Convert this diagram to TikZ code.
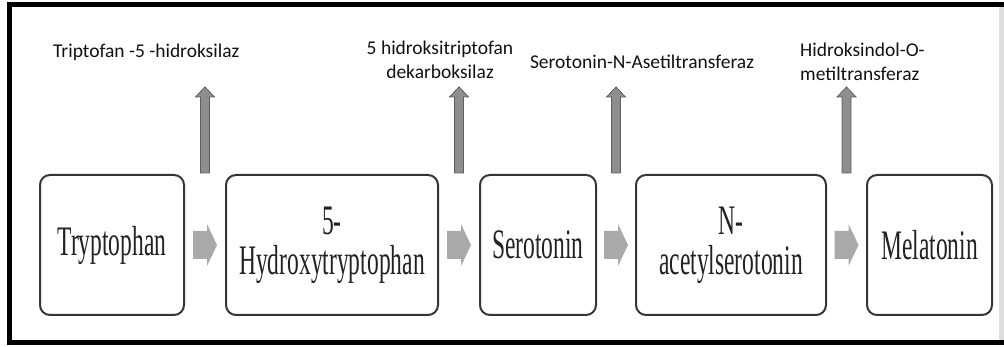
\documentclass[tikz,border=0pt]{standalone}
\usepackage{fontspec}
\setmainfont{Carlito}
\newfontfamily\boxfont{Liberation Serif}[FakeStretch=0.56]
\usetikzlibrary{calc}

\definecolor{boxline}{HTML}{353535}
\definecolor{boxtext}{HTML}{222222}
\definecolor{labeltext}{HTML}{111111}
\definecolor{arrowgrey}{HTML}{ABA8A9}
\definecolor{upgrey}{HTML}{8E8E8E}
\definecolor{upedge}{HTML}{5E5E5E}
\definecolor{rightedge}{HTML}{DDDDDD}

\tikzset{
	stage/.style={draw=boxline, line width=2pt, rounded corners=10pt, minimum height=140pt, inner sep=0pt, align=center, text=boxtext, font=\boxfont\fontsize{42}{40}\selectfont},
	enzyme/.style={inner sep=0pt, text=labeltext, font=\fontsize{19.5}{24}\selectfont},
	steparrow/.style={fill=arrowgrey, draw=none},
	uparrow/.style={fill=upgrey, draw=upedge, line width=0.8pt},
}

\begin{document}
\begin{tikzpicture}[x=1pt,y=-1pt]
		\useasboundingbox (0,0) rectangle (1004,347);
		% frame
		\draw[rightedge, line width=5pt] (1001.5,2) -- (1001.5,345);
		\draw[line width=5pt] (1004,4.5) -- (9.5,4.5) -- (9.5,342) -- (1004,342);
		% stages
		\node[stage, minimum width=144pt] (trp) at (112,245) {Tryptophan};
		\node[stage, minimum width=212pt] (htp) at (332,245) {5-\\Hydroxytryptophan};
		\node[stage, minimum width=116pt] (ser) at (538,245) {Serotonin};
		\node[stage, minimum width=190pt] (nas) at (731,245) {N-\\acetylserotonin};
		\node[stage, minimum width=125pt] (mel) at (929.5,245) {Melatonin};
		% enzymes
		\node[enzyme, anchor=west] (tph) at (53,52) {Triptofan -5 -hidroksilaz};
		\node[enzyme, align=center] (aadc) at (440,60) {5 hidroksitriptofan\\dekarboksilaz};
		\node[enzyme] (aanat) at (642,62) {Serotonin-N-Asetiltransferaz};
		\node[enzyme, align=left, anchor=west] (hiomt) at (800,62) {Hidroksindol-O-\\metiltransferaz};
		% gaps between stages
		\coordinate (g1) at ($(trp.north east)!0.5!(htp.north west)$);
		\coordinate (g2) at ($(htp.north east)!0.5!(ser.north west)$);
		\coordinate (g3) at ($(ser.north east)!0.5!(nas.north west)$);
		\coordinate (g4) at ($(nas.north east)!0.5!(mel.north west)$);
		\coordinate (m1) at ($(trp.east)!0.5!(htp.west)$);
		\coordinate (m2) at ($(htp.east)!0.5!(ser.west)$);
		\coordinate (m3) at ($(ser.east)!0.5!(nas.west)$);
		\coordinate (m4) at ($(nas.east)!0.5!(mel.west)$);
		\foreach \g in {g1,g2,g3,g4}
		\filldraw[uparrow] ($(\g)+(-4.5,-1)$) -- ++(0,-76) -- ++(-5,0) -- ++(9.5,-10) -- ++(9.5,10) -- ++(-5,0) -- ++(0,76) -- cycle;
		\foreach \m in {m1,m2,m3,m4}
		\fill[steparrow] ($(\m)+(-12,-14)$) -- ++(14,0) -- ++(0,-7) -- ++(10,21) -- ++(-10,21) -- ++(0,-7) -- ++(-14,0) -- cycle;
\end{tikzpicture}
\end{document}
